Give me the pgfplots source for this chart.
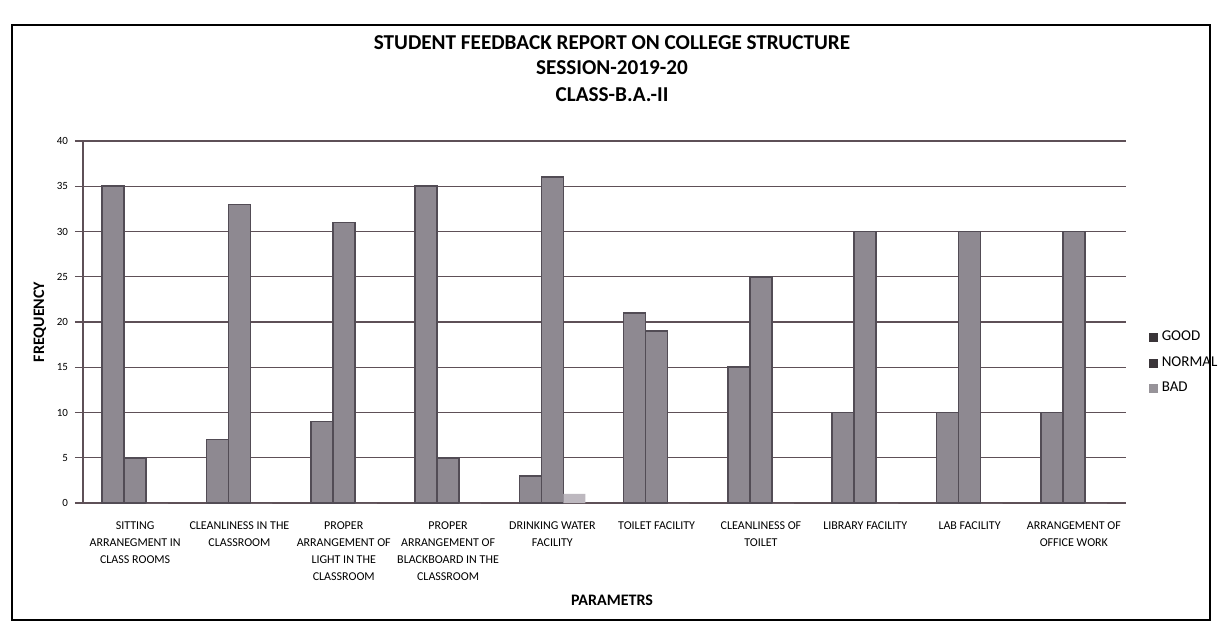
\documentclass[border=0pt]{standalone}
\usepackage{fontspec}
\setmainfont{Carlito}
\usepackage{pgfplots}
\pgfplotsset{compat=1.18}
\definecolor{barfill}{HTML}{8E8991}
\definecolor{baredge}{HTML}{524C55}
\definecolor{badfill}{HTML}{BDB8BF}
\definecolor{gridc}{HTML}{5E5057}
\definecolor{legdark}{HTML}{3A3539}
\begin{document}
\begin{tikzpicture}
\useasboundingbox (-41.5pt,-64pt) rectangle (568.5pt,251.5pt);
\fill[white] (-41.5pt,-64pt) rectangle (568.5pt,251.5pt);
\draw[line width=1pt] (-35.5pt,-58.5pt) rectangle (563.5pt,239pt);
\begin{axis}[
  at={(0pt,0pt)}, anchor=south west,
  width=521.5pt, height=181pt, scale only axis,
  ybar, bar width=11pt,
  xmin=-0.5, xmax=9.5, ymin=0, ymax=40,
  xtick={0,...,9},
  xticklabels={{SITTING\\ARRANEGMENT IN\\CLASS ROOMS},{CLEANLINESS IN THE\\CLASSROOM},{PROPER\\ARRANGEMENT OF\\LIGHT IN THE\\CLASSROOM},{PROPER\\ARRANGEMENT OF\\BLACKBOARD IN THE\\CLASSROOM},{DRINKING WATER\\FACILITY},{TOILET FACILITY},{CLEANLINESS OF\\TOILET},{LIBRARY FACILITY},{LAB FACILITY},{ARRANGEMENT OF\\OFFICE WORK}},
  x tick label style={font=\fontsize{6}{8.5}\selectfont, align=center, anchor=north, yshift=-2pt},
  x tick style={draw=none},
  ytick={0,5,...,40},
  y tick label style={font=\fontsize{5.5}{6}\selectfont},
  /pgf/number format/assume math mode=true,
  tick align=outside, major tick length=4pt,
  y tick style={gridc, line width=0.6pt},
  ymajorgrids, grid style={gridc, line width=0.6pt},
  axis lines*=left,
  axis line style={gridc, line width=0.6pt},
  legend style={at={(axis description cs:1.022,0.387)}, anchor=west, draw=none, fill=none,
    font=\fontsize{7.5}{9}\selectfont, row sep=4.5pt, inner sep=0pt,
    nodes={inner xsep=1.8pt, inner ysep=1pt}},
  legend cell align=left,
]
\addplot[forget plot, bar shift=-11pt, fill=barfill, draw=baredge, line width=0.8pt] coordinates {(0,35) (1,7) (2,9) (3,35) (4,3) (5,21) (6,15) (7,10) (8,10) (9,10)};
\addplot[forget plot, bar shift=0pt, fill=barfill, draw=baredge, line width=0.8pt] coordinates {(0,5) (1,33) (2,31) (3,5) (4,36) (5,19) (6,25) (7,30) (8,30) (9,30)};
\addplot[forget plot, bar shift=11pt, fill=badfill, draw=none] coordinates {(0,0) (1,0) (2,0) (3,0) (4,1) (5,0) (6,0) (7,0) (8,0) (9,0)};
\addlegendimage{legend image code/.code={\fill[legdark] (0pt,-2pt) rectangle (4pt,2pt);}}
\addlegendentry{GOOD}
\addlegendimage{legend image code/.code={\fill[legdark] (0pt,-2pt) rectangle (4pt,2pt);}}
\addlegendentry{NORMAL}
\addlegendimage{legend image code/.code={\fill[badfill!80!black] (0pt,-2pt) rectangle (4pt,2pt);}}
\addlegendentry{BAD}
\end{axis}
\node[font=\bfseries\fontsize{10.6}{12}\selectfont, anchor=base] at (264.5pt,226.5pt) {STUDENT FEEDBACK REPORT ON COLLEGE STRUCTURE};
\node[font=\bfseries\fontsize{10.6}{12}\selectfont, anchor=base] at (264.5pt,214pt) {SESSION-2019-20};
\node[font=\bfseries\fontsize{10.6}{12}\selectfont, anchor=base] at (264.5pt,200.5pt) {CLASS-B.A.-II};
\node[font=\bfseries\fontsize{8}{10}\selectfont, rotate=90] at (-21.5pt,90.5pt) {FREQUENCY};
\node[font=\bfseries\fontsize{8}{10}\selectfont] at (264.5pt,-48.5pt) {PARAMETRS};
\end{tikzpicture}
\end{document}
